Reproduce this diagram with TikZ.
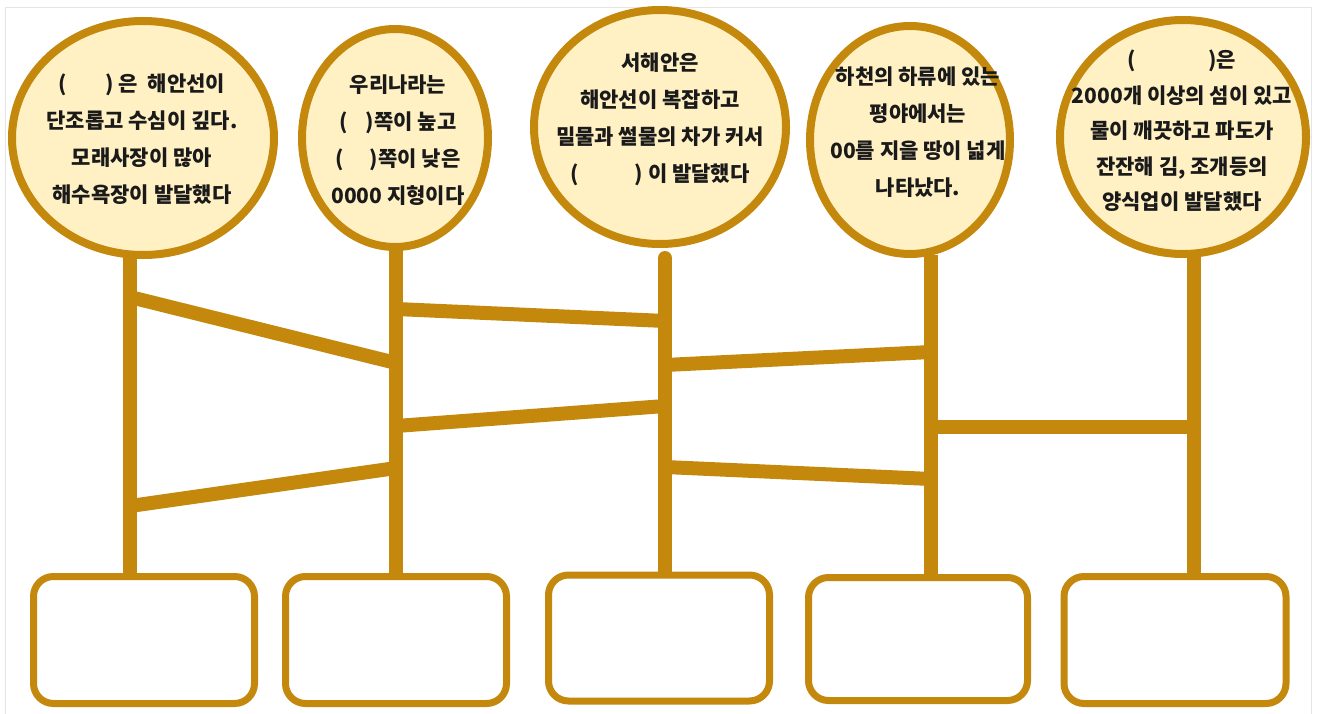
\documentclass[tikz,border=0pt]{standalone}
\usepackage{fontspec}
\newfontfamily\kr{Noto Sans CJK KR}
\usetikzlibrary{shapes.geometric}
\definecolor{gold}{HTML}{C3880C}
\definecolor{cream}{HTML}{FFF1C4}
\definecolor{ink}{HTML}{1A1A1A}
\tikzset{
  bubble/.style={ellipse, draw=gold, fill=cream, line width=8pt, inner sep=0pt},
  answerbox/.style={rectangle, rounded corners=20pt, draw=gold, fill=white, line width=7pt, inner sep=0pt},
  stem/.style={draw=gold, line width=14pt},
  bar/.style={draw=gold, line width=14pt},
  label/.style={font=\kr\bfseries\fontsize{21}{37}\selectfont, text=ink, align=center, inner sep=0pt},
}
\begin{document}
\begin{tikzpicture}[x=1pt, y=-1pt]
\useasboundingbox (0,0) rectangle (1317,714);
\draw[black!10, line width=1pt] (5,8) -- (1311,8) -- (1311,716) (5,8) -- (5,716);
% stem coordinates
\coordinate (s1t) at (130,255); \coordinate (s1b) at (130,576);
\coordinate (s2t) at (396,248); \coordinate (s2b) at (396,576);
\coordinate (s3t) at (665,258); \coordinate (s3b) at (665,576);
\coordinate (s4t) at (931,255); \coordinate (s4b) at (931,576);
\coordinate (s5t) at (1194,255); \coordinate (s5b) at (1194,576);
% bar ends
\coordinate (a1) at (130,297); \coordinate (a2) at (396,363);
\coordinate (bb1) at (130,506); \coordinate (bb2) at (396,468);
\coordinate (c1e) at (396,309); \coordinate (c2e) at (665,321);
\coordinate (d1) at (396,426); \coordinate (d2) at (665,406);
\coordinate (e1) at (665,365); \coordinate (e2) at (931,352);
\coordinate (f1) at (665,467); \coordinate (f2) at (931,479);
\coordinate (g1) at (931,427); \coordinate (g2) at (1194,427);
\draw[bar] (a1) -- (a2);
\draw[bar] (bb1) -- (bb2);
\draw[bar] (c1e) -- (c2e);
\draw[bar] (d1) -- (d2);
\draw[bar] (e1) -- (e2);
\draw[bar] (f1) -- (f2);
\draw[bar] (g1) -- (g2);
\draw[stem] (s1t) -- (s1b);
\draw[stem] (s2t) -- (s2b);
\draw[stem, line cap=round] (s3t) -- (s3b);
\draw[stem] (s4t) -- (s4b);
\draw[stem] (s5t) -- (s5b);
% bubbles
\node[bubble, minimum width=262pt, minimum height=234pt] (c1) at (143,138) {};
\node[bubble, minimum width=186pt, minimum height=218pt] (c2) at (395,138) {};
\node[bubble, minimum width=252pt, minimum height=234pt] (c3) at (660,127) {};
\node[bubble, minimum width=200pt, minimum height=228pt] (c4) at (910,140) {};
\node[bubble, minimum width=246pt, minimum height=234pt] (c5) at (1183,137) {};
% texts
\node[label] (t1) at (142,139) {(\hspace{38pt}) 은\hspace{10pt}해안선이\\단조롭고 수심이 깊다.\\모래사장이 많아\\해수욕장이 발달했다};
\node[label] (t2) at (398,140) {우리나라는\\(\hspace{18pt})쪽이 높고\\(\hspace{26pt})쪽이 낮은\\0000 지형이다};
\node[label] (t3) at (660,119) {서해안은\\해안선이 복잡하고\\밀물과 썰물의 차가 커서\\(\hspace{56pt}) 이 발달했다};
\node[label] (t4) at (918,132) {하천의 하류에 있는\\평야에서는\\00를 지을 땅이 넓게\\나타났다.};
\node[label, font=\kr\bfseries\fontsize{21}{35.5}\selectfont] (t5) at (1182,131) {(\hspace{72pt})은\\2000개 이상의 섬이 있고\\물이 깨끗하고 파도가\\잔잔해 김, 조개등의\\양식업이 발달했다};
% answer boxes
\node[answerbox, minimum width=221pt, minimum height=127pt] (b1) at (144,640) {};
\node[answerbox, minimum width=221pt, minimum height=127pt] (b2) at (396,640) {};
\node[answerbox, minimum width=221pt, minimum height=126pt] (b3) at (659,638) {};
\node[answerbox, minimum width=219pt, minimum height=123pt] (b4) at (918,639) {};
\node[answerbox, minimum width=222pt, minimum height=127pt] (b5) at (1175,640) {};
\end{tikzpicture}
\end{document}
